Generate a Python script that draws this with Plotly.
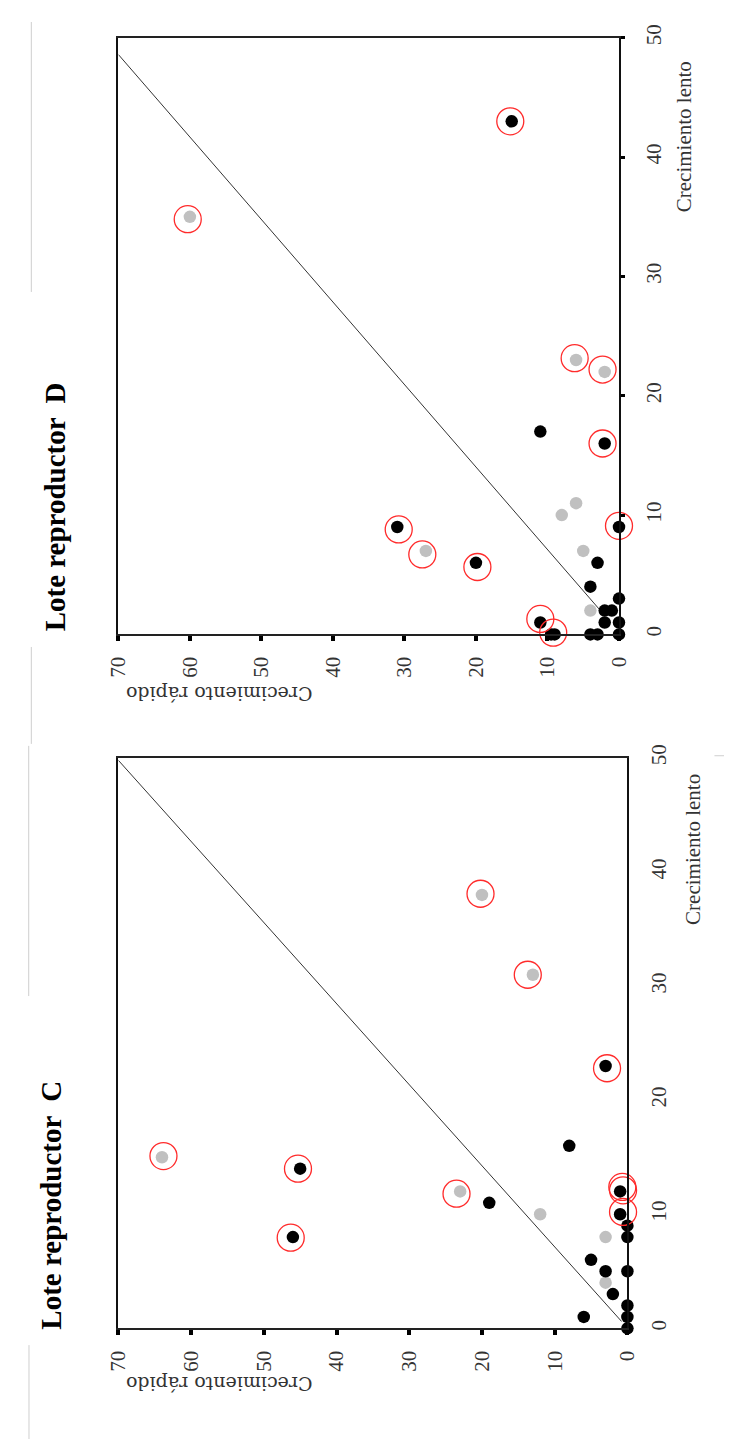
import plotly.graph_objects as go

# ---------------- data (Crecimiento rápido, Crecimiento lento) ----------------
# Lote reproductor D
D_black_rapido = [11, 2, 0, 31, 20, 3, 4, 0, 2, 1, 2, 0, 11, 9.5, 9, 4, 3, 0, 15]
D_black_lento  = [17, 16, 9, 9, 6, 6, 4, 3, 2, 2, 1, 1, 1, 0, 0, 0, 0, 0, 43]
D_gray_rapido  = [6, 8, 27, 5, 4, 60, 6, 2]
D_gray_lento   = [11, 10, 7, 7, 2, 35, 23, 22]
D_ring_rapido  = [15.2, 60.3, 6.2, 2.3, 2.3, 0, 30.8, 27.5, 19.8, 11.0, 9.2]
D_ring_lento   = [43.0, 34.8, 23.15, 22.2, 16.0, 9.1, 8.8, 6.7, 5.65, 1.3, 0.15]
D_line_rapido  = [2.6, 70]
D_line_lento   = [2.0, 48.6]

# Lote reproductor C
C_black_rapido = [45, 46, 19, 8, 1, 1, 0, 0, 5, 3, 0, 2, 0, 0, 0, 6, 3]
C_black_lento  = [14, 8, 11, 16, 12, 10, 9, 8, 6, 5, 5, 3, 2, 1, 0, 1, 23]
C_gray_rapido  = [64, 23, 12, 3, 3, 20, 13]
C_gray_lento   = [15, 12, 10, 8, 4, 38, 31]
C_ring_rapido  = [63.8, 45.3, 46.3, 23.5, 0.7, 0.6, 0.6, -0.3, -0.4, -0.1, 20.2, 13.7, 2.8]
C_ring_lento   = [15.1, 14.0, 7.95, 11.8, 12.4, 12.1, 10.2, 9.1, 7.95, 5.2, 38.1, 31.0, 22.8]
C_line_rapido  = [0.8, 70]
C_line_lento   = [0.6, 49.8]

x_ticks = [70, 60, 50, 40, 30, 20, 10, 0]
y_ticks = [0, 10, 20, 30, 40, 50]

TITLE_D = "Lote reproductor \u00a0D"
TITLE_C = "Lote reproductor \u00a0C"
X_TITLE = "Crecimiento rápido"
Y_TITLE = "Crecimiento lento"

# ---------------- figure ----------------
W, H = 732, 1439
def px(x):
    return x / W
def py(y):
    return 1 - y / H

SERIF = "Liberation Serif, Times New Roman, serif"
BLACK = "#000000"
GRAY = "#c0c0c0"
RED = "#ff2b2b"

fig = go.Figure()

def add_panel(xa, ya, line_x, line_y, bx, by, gx, gy, rx, ry):
    fig.add_trace(go.Scatter(x=line_x, y=line_y, mode="lines",
                             line=dict(color="#333333", width=1),
                             xaxis=xa, yaxis=ya, hoverinfo="skip"))
    fig.add_trace(go.Scatter(x=gx, y=gy, mode="markers",
                             marker=dict(color=GRAY, size=12.5, line=dict(width=0)),
                             cliponaxis=False, xaxis=xa, yaxis=ya))
    fig.add_trace(go.Scatter(x=bx, y=by, mode="markers",
                             marker=dict(color=BLACK, size=12.5, line=dict(width=0)),
                             cliponaxis=False, xaxis=xa, yaxis=ya))
    fig.add_trace(go.Scatter(x=rx, y=ry, mode="markers",
                             marker=dict(symbol="circle-open", color=RED, size=27,
                                         line=dict(color=RED, width=1.3)),
                             cliponaxis=False, xaxis=xa, yaxis=ya))

add_panel("x", "y", D_line_rapido, D_line_lento, D_black_rapido, D_black_lento,
          D_gray_rapido, D_gray_lento, D_ring_rapido, D_ring_lento)
add_panel("x2", "y2", C_line_rapido, C_line_lento, C_black_rapido, C_black_lento,
          C_gray_rapido, C_gray_lento, C_ring_rapido, C_ring_lento)

tickfont = dict(family=SERIF, size=21, color="#333333")

def xaxis_cfg(domain, anchor):
    return dict(domain=domain, anchor=anchor, range=[70, 0], tickvals=x_ticks,
                ticktext=[str(v) for v in x_ticks], ticks="outside", ticklen=5,
                tickwidth=4, tickcolor=BLACK, showline=True, linecolor="#222222",
                linewidth=2, mirror=True, showgrid=False, zeroline=False,
                tickangle=-90, tickfont=tickfont, ticklabelstandoff=7,
                fixedrange=True)

def yaxis_cfg(domain, anchor, ticks):
    return dict(domain=domain, anchor=anchor, range=[0, 50], side="right",
                tickvals=y_ticks, ticktext=[str(v) for v in y_ticks],
                ticks=ticks, ticklen=4, tickwidth=3, tickcolor=BLACK,
                showline=True, linecolor="#111111", linewidth=2, mirror=True,
                showgrid=False, zeroline=False, tickangle=-90, tickfont=tickfont,
                ticklabelstandoff=11, fixedrange=True)

dom_x_D = [px(101.7), px(619.3)]
dom_y_D = [py(619.3), py(16)]
dom_x_C = [px(101.7), px(628.0)]
dom_y_C = [py(1321), py(744.3)]

annotations = [
    dict(text="<b>" + TITLE_D + "</b>", x=px(36), y=py(490), textangle=-90,
         font=dict(family=SERIF, size=29, color=BLACK)),
    dict(text="<b>" + TITLE_C + "</b>", x=px(32), y=py(1196), textangle=-90,
         font=dict(family=SERIF, size=29, color=BLACK)),
    dict(text=X_TITLE, x=px(206), y=py(679), textangle=180,
         font=dict(family="DejaVu Serif, serif", size=19, color="#333333")),
    dict(text=X_TITLE, x=px(206), y=py(1378), textangle=180,
         font=dict(family="DejaVu Serif, serif", size=19, color="#333333")),
    dict(text=Y_TITLE, x=px(686), y=py(116), textangle=-90,
         font=dict(family=SERIF, size=21, color="#333333")),
    dict(text=Y_TITLE, x=px(695), y=py(837), textangle=-90,
         font=dict(family=SERIF, size=21, color="#333333")),
]
for a in annotations:
    a.update(xref="paper", yref="paper", showarrow=False,
             xanchor="center", yanchor="middle")

deco = dict(type="line", xref="paper", yref="paper",
            line=dict(color="#cfcfcf", width=1))
shapes = [
    dict(deco, x0=px(11.7), x1=px(11.7), y0=py(0), y1=py(273)),
    dict(deco, x0=px(11.7), x1=px(11.7), y0=py(632), y1=py(730)),
    dict(deco, x0=px(9), x1=px(9), y0=py(732), y1=py(985)),
    dict(deco, x0=px(9.3), x1=px(9.3), y0=py(1338), y1=py(1439)),
    dict(deco, x0=px(718), x1=px(732), y0=py(742), y1=py(742)),
]

fig.update_layout(
    width=W, height=H, autosize=False,
    margin=dict(l=0, r=0, t=0, b=0, pad=0),
    paper_bgcolor="white", plot_bgcolor="white",
    showlegend=False,
    xaxis=xaxis_cfg(dom_x_D, "y"),
    yaxis=yaxis_cfg(dom_y_D, "x", "outside"),
    xaxis2=xaxis_cfg(dom_x_C, "y2"),
    yaxis2=yaxis_cfg(dom_y_C, "x2", ""),
    annotations=annotations,
    shapes=shapes,
)

fig.write_html("out.html")
